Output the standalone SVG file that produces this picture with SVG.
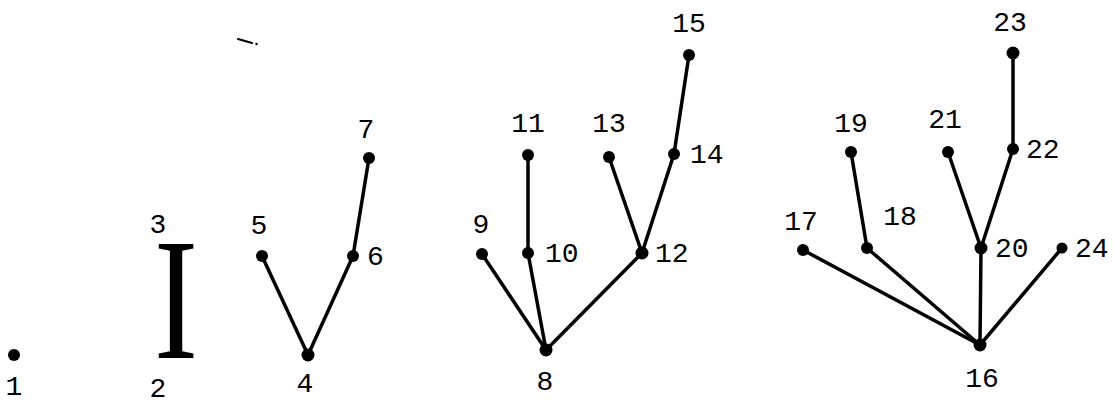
<svg xmlns="http://www.w3.org/2000/svg" width="1113" height="402" viewBox="0 0 1113 402">
<style>
.e{stroke:#000;stroke-width:3.5;stroke-linecap:round;fill:none}
.n{fill:#000}
.t{font-family:"Liberation Mono","DejaVu Sans Mono",monospace;font-size:28px;fill:#000}
.c{text-anchor:middle}
</style>
<rect width="1113" height="402" fill="#fff"/>
<path d="M238,39 L245,41 L252,43" stroke="#000" stroke-width="2.2" fill="none" stroke-linecap="round"/>
<circle cx="256.5" cy="44" r="1.2" fill="#000"/>
<g id="edges">
<line class="e" x1="262" y1="256" x2="308" y2="355"/>
<line class="e" x1="308" y1="355" x2="353" y2="256"/>
<line class="e" x1="353" y1="256" x2="369" y2="158"/>
<line class="e" x1="482" y1="254" x2="546" y2="350"/>
<line class="e" x1="528" y1="253" x2="546" y2="350"/>
<line class="e" x1="528" y1="253" x2="528" y2="155"/>
<line class="e" x1="642" y1="253" x2="546" y2="350"/>
<line class="e" x1="642" y1="253" x2="609" y2="157"/>
<line class="e" x1="642" y1="253" x2="674" y2="154"/>
<line class="e" x1="674" y1="154" x2="689" y2="55"/>
<line class="e" x1="803" y1="250" x2="980" y2="345"/>
<line class="e" x1="867" y1="248" x2="980" y2="345"/>
<line class="e" x1="867" y1="248" x2="851" y2="152"/>
<line class="e" x1="981" y1="248" x2="980" y2="345"/>
<line class="e" x1="981" y1="248" x2="948" y2="152"/>
<line class="e" x1="981" y1="248" x2="1013" y2="149"/>
<line class="e" x1="1013" y1="149" x2="1013" y2="53"/>
<line class="e" x1="1062" y1="248" x2="980" y2="345"/>
</g>
<g id="node1"><circle class="n" cx="14" cy="355" r="6"/><text class="t c" x="14" y="395">1</text></g>
<g id="node2-3">
<text x="176" y="358" text-anchor="middle" font-family="'Liberation Serif',serif" font-size="174" textLength="44" lengthAdjust="spacingAndGlyphs">I</text>
<text class="t c" x="158" y="397">2</text>
<text class="t c" x="158" y="233">3</text>
</g>
<g id="node4"><circle class="n" cx="308" cy="355" r="6.5"/><text class="t c" x="305" y="392">4</text></g>
<g id="node5"><circle class="n" cx="262" cy="256" r="6"/><text class="t c" x="259" y="234">5</text></g>
<g id="node6"><circle class="n" cx="353" cy="256" r="6"/><text class="t" x="367" y="265">6</text></g>
<g id="node7"><circle class="n" cx="369" cy="158" r="6"/><text class="t c" x="366" y="138">7</text></g>
<g id="node8"><circle class="n" cx="546" cy="350" r="6.5"/><text class="t c" x="545" y="390">8</text></g>
<g id="node9"><circle class="n" cx="482" cy="254" r="6"/><text class="t c" x="481" y="233">9</text></g>
<g id="node10"><circle class="n" cx="528" cy="253" r="6"/><text class="t" x="545" y="262">10</text></g>
<g id="node11"><circle class="n" cx="528" cy="155" r="6"/><text class="t c" x="528" y="132">11</text></g>
<g id="node12"><circle class="n" cx="642" cy="253" r="6.5"/><text class="t" x="655" y="262">12</text></g>
<g id="node13"><circle class="n" cx="609" cy="157" r="6"/><text class="t c" x="609" y="132">13</text></g>
<g id="node14"><circle class="n" cx="674" cy="154" r="6"/><text class="t" x="690" y="163">14</text></g>
<g id="node15"><circle class="n" cx="689" cy="55" r="6"/><text class="t c" x="689" y="32">15</text></g>
<g id="node16"><circle class="n" cx="980" cy="345" r="6.5"/><text class="t c" x="982" y="387">16</text></g>
<g id="node17"><circle class="n" cx="803" cy="250" r="6"/><text class="t c" x="801" y="230">17</text></g>
<g id="node18"><circle class="n" cx="867" cy="248" r="6"/><text class="t c" x="900" y="225">18</text></g>
<g id="node19"><circle class="n" cx="851" cy="152" r="6"/><text class="t c" x="851" y="132">19</text></g>
<g id="node20"><circle class="n" cx="981" cy="248" r="6.5"/><text class="t" x="995" y="257">20</text></g>
<g id="node21"><circle class="n" cx="948" cy="152" r="6"/><text class="t c" x="945" y="128">21</text></g>
<g id="node22"><circle class="n" cx="1013" cy="149" r="6"/><text class="t" x="1026" y="158">22</text></g>
<g id="node23"><circle class="n" cx="1013" cy="53" r="6.5"/><text class="t c" x="1010" y="31">23</text></g>
<g id="node24"><circle class="n" cx="1062" cy="248" r="5.5"/><text class="t" x="1075" y="257">24</text></g>
</svg>
